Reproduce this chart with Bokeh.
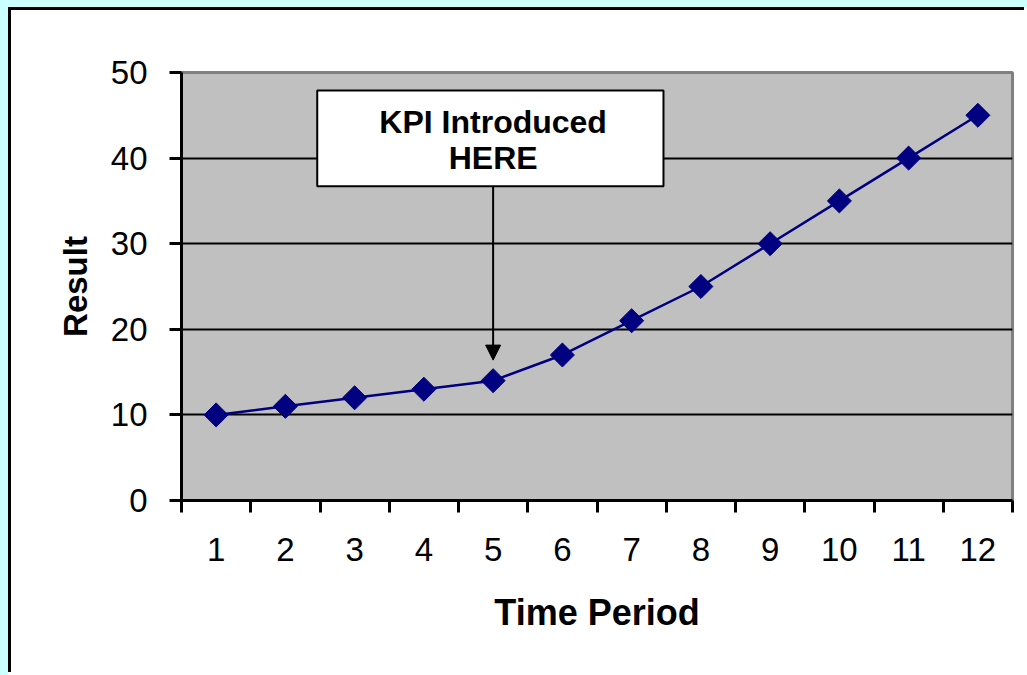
import math
from bokeh.plotting import figure
from bokeh.models import (Range1d, FixedTicker, BoxAnnotation, Arrow, NormalHead,
                          Label, GlobalInlineStyleSheet)
from bokeh.embed import file_html
from bokeh.resources import INLINE

# ---- data ----
periods = list(range(1, 13))
results = [10, 11, 12, 13, 14, 17, 21, 25, 30, 35, 40, 45]
y_ticks = [0, 10, 20, 30, 40, 50]
grid_values = [10, 20, 30, 40]
annotation_lines = ["KPI Introduced", "HERE"]
kpi_period = 5

FONT = "Liberation Sans"

p = figure(width=1016, height=665, output_backend="svg", toolbar_location=None,
           title=None,
           x_range=Range1d(0.5, 12.5), y_range=Range1d(0, 50),
           min_border_left=170, min_border_top=62, min_border_right=15,
           min_border_bottom=175,
           background_fill_color="#C0C0C0", border_fill_color="white",
           outline_line_color="#808080", outline_line_width=3)

p.stylesheets = [GlobalInlineStyleSheet(
    css="html,body{margin:0 !important;overflow:hidden !important;}"
        " html{background:#ffffff !important;}"
        " body{padding:7px 0 0 8px !important;"
        " background:linear-gradient(to right, #CCFFFF 8px, rgba(0,0,0,0) 8px),"
        " linear-gradient(to bottom, #CCFFFF 7px, #ffffff 7px) !important;}")]
p.styles = {"border-left": "3px solid black", "border-top": "3px solid black"}

# x axis: labels at centres, ticks between categories
xa = p.xaxis[0]
xa.ticker = FixedTicker(ticks=periods, minor_ticks=[i + 0.5 for i in range(0, 13)])
xa.major_label_overrides = {i: str(i) for i in periods}
xa.major_tick_out = 0
xa.major_tick_in = 0
xa.major_tick_line_color = None
xa.minor_tick_out = 12
xa.minor_tick_in = 0
xa.minor_tick_line_color = "black"
xa.minor_tick_line_width = 3
xa.axis_line_color = "black"
xa.axis_line_width = 3
xa.major_label_text_font = FONT
xa.major_label_text_font_size = "33px"
xa.major_label_text_color = "black"
xa.major_label_standoff = 25
xa.axis_label = "Time Period"
xa.axis_label_text_font = FONT
xa.axis_label_text_font_style = "bold"
xa.axis_label_text_font_size = "36px"
xa.axis_label_text_color = "black"
xa.axis_label_standoff = 28

ya = p.yaxis[0]
ya.ticker = FixedTicker(ticks=y_ticks)
ya.major_tick_out = 12
ya.major_tick_in = 0
ya.major_tick_line_width = 3
ya.major_tick_line_color = "black"
ya.minor_tick_line_color = None
ya.axis_line_color = "black"
ya.axis_line_width = 3
ya.major_label_text_font = FONT
ya.major_label_text_font_size = "33px"
ya.major_label_text_color = "black"
ya.major_label_standoff = 22
ya.axis_label = "Result"
ya.axis_label_text_font = FONT
ya.axis_label_text_font_style = "bold"
ya.axis_label_text_font_size = "33px"
ya.axis_label_text_color = "black"
ya.axis_label_standoff = 14

p.xgrid.visible = False
p.ygrid.ticker = FixedTicker(ticks=grid_values)
p.ygrid.grid_line_color = "black"
p.ygrid.grid_line_width = 2

p.line(periods, results, line_color="#000080", line_width=2.5)
p.scatter(periods, results, marker="square", size=17, angle=math.pi / 4,
          fill_color="#000080", line_color="#000080")

box = BoxAnnotation(left=2.46, right=7.46, bottom=36.7, top=47.9,
                    fill_color="white", fill_alpha=1.0,
                    line_color="black", line_alpha=1.0, line_width=2)
p.add_layout(box)

p.add_layout(Arrow(end=NormalHead(size=15, fill_color="black", line_color="black"),
                   x_start=kpi_period, y_start=36.7, x_end=kpi_period, y_end=16.4,
                   line_color="black", line_width=2))

for txt, yy in zip(annotation_lines, [44.2, 40.0]):
    p.add_layout(Label(x=kpi_period, y=yy, text=txt, text_align="center",
                       text_baseline="middle", text_font=FONT,
                       text_font_style="bold", text_font_size="32px",
                       text_color="black"))

open("out.html", "w").write(file_html(p, INLINE))
